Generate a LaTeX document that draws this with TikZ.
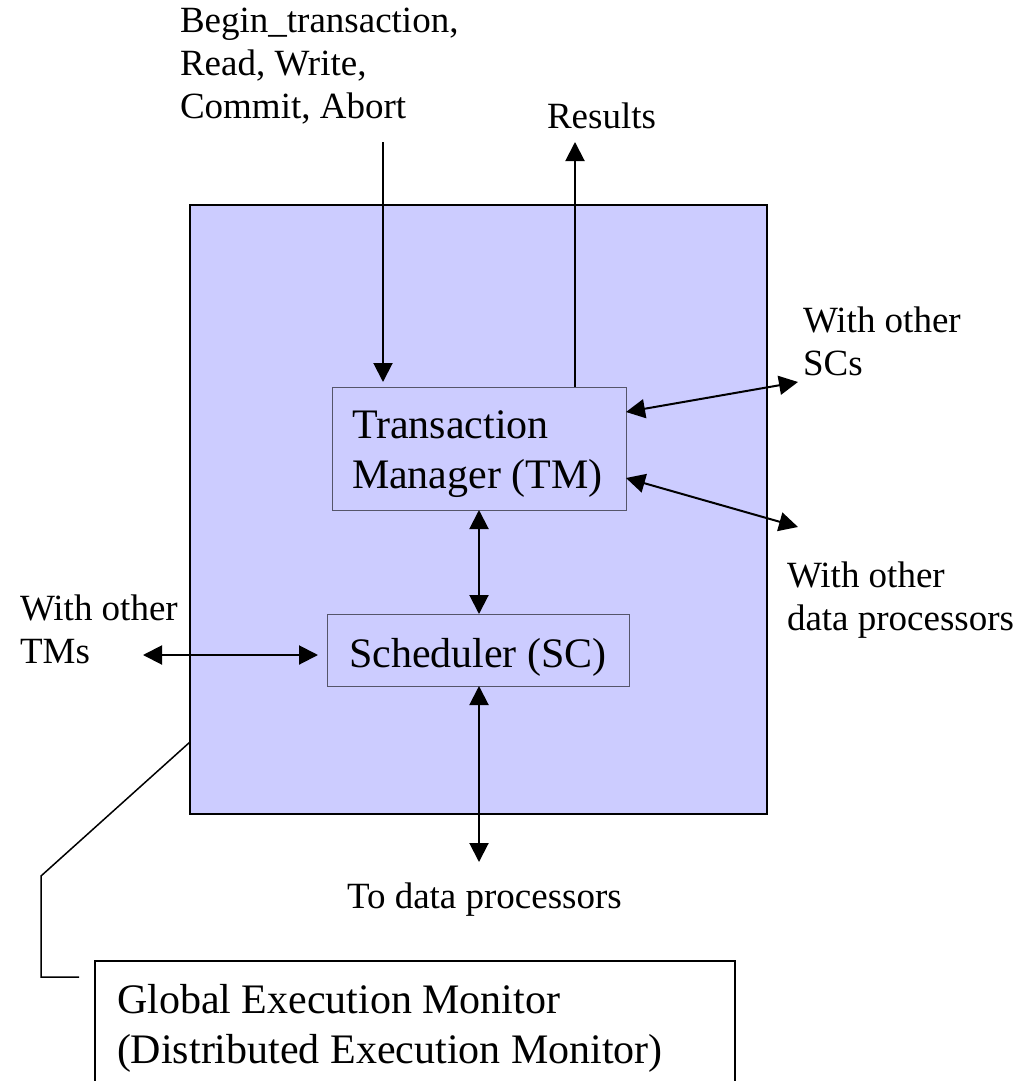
\documentclass[tikz,border=0pt]{standalone}
\usepackage{fontspec}
\setmainfont{Liberation Serif}
\usetikzlibrary{arrows.meta,calc}
\definecolor{sitefill}{HTML}{CCCCFF}
\definecolor{boxline}{HTML}{55556A}
\begin{document}
\begin{tikzpicture}[x=1pt,y=-1pt,
  >={Triangle[length=19pt,width=19pt]},
  small/.style={font=\fontsize{37}{43}\selectfont, inner sep=0pt, outer sep=0pt, align=left, anchor=base west},
  large/.style={font=\fontsize{42}{50}\selectfont, inner sep=0pt, outer sep=0pt, align=left, anchor=base west},
  site/.style={draw=black, line width=2pt, fill=sitefill, inner sep=0pt, outer sep=0pt, anchor=north west},
  module/.style={draw=boxline, line width=1pt, fill=sitefill, inner sep=0pt, outer sep=0pt, anchor=north west},
  link/.style={line width=2pt},
  leader/.style={line width=1.5pt},
  frame/.style={line width=2pt}
]
\useasboundingbox (0,0) rectangle (1028,1081);

% the site: transaction manager over scheduler
\node[site, minimum width=577pt, minimum height=609pt] (site) at (190,205) {};
\node[module, minimum width=294pt, minimum height=123pt] (tm) at (332,387) {};
\node[module, minimum width=302pt, minimum height=72pt] (sc) at (327,614) {};

% multi-line labels are placed by the baseline of their last line
\node[large] (tmText) at (352,488) {Transaction\\Manager (TM)};
\node[large] (scText) at (349,667) {Scheduler (SC)};

% free ends of the connectors
\coordinate (cmdTop) at (383,142);
\coordinate (resTip) at (575,142);
\coordinate (scsEnd) at (798,382);
\coordinate (dpEnd)  at (798,527);
\coordinate (tmsEnd) at (143,655);
\coordinate (dbEnd)  at (479,862);

% connectors
\draw[link,->,shorten >=5pt] (cmdTop) -- (cmdTop |- tm.north);
\draw[link,->] (tm.north -| resTip) -- (resTip);
\draw[link,<->] ($(tm.north east)+(0,25)$) -- (scsEnd);
\draw[link,<->] ($(tm.south east)+(0,-32)$) -- (dpEnd);
\draw[link,<->] (tm.south) -- (tm.south |- sc.north);
\draw[link,<->,shorten >=9pt] (tmsEnd) -- (tmsEnd -| sc.west);
\draw[link,<->] (sc.south -| tm.south) -- (dbEnd);

% labels
\node[small] (cmds)   at (180,118) {Begin\_transaction,\\Read, Write,\\Commit, Abort};
\node[small] (res)    at (547,128) {Results};
\node[small] (scsLbl) at (803,375) {With other\\SCs};
\node[small] (dpLbl)  at (787,630) {With other\\data processors};
\node[small] (tmsLbl) at (20,663)  {With other\\TMs};
\node[small] (toDp)   at (347,908) {To data processors};

% global execution monitor, reached by a leader from the site
\coordinate (gemNW) at (95,961);
\coordinate (gemNE) at (735,961);
\node[large] (gem) at (117,1063) {Global Execution Monitor\\(Distributed Execution Monitor)};
\draw[frame] (gemNW |- 0,1081) -- (gemNW) -- (gemNE) -- (gemNE |- 0,1081);

\coordinate (leadA) at (site.west |- 0,742);
\coordinate (leadB) at (41,876);
\coordinate (leadC) at (41,977);
\coordinate (leadD) at (79,977);
\draw[leader] (leadA) -- (leadB) -- (leadC) -- (leadD);
\end{tikzpicture}
\end{document}
